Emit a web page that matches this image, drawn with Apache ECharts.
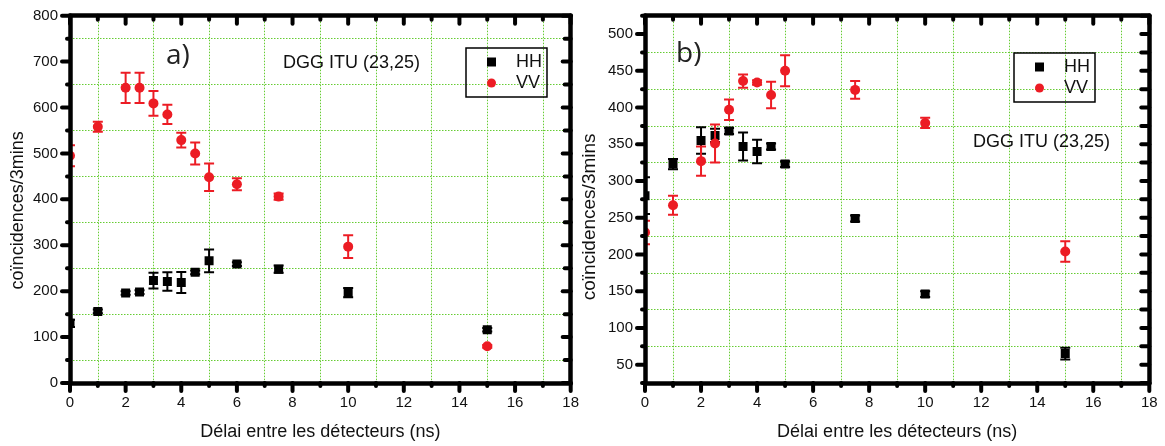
<!DOCTYPE html>
<html><head><meta charset="utf-8">
<script src="https://cdn.jsdelivr.net/npm/echarts@6/dist/echarts.min.js"></script>
<style>html,body{margin:0;padding:0;background:#fff}#c{width:1165px;height:446px}</style>
</head><body><div id="c"></div>
<script>
// ---- Panel a) ----
const delaysA = [0, 1, 2, 2.5, 3, 3.5, 4, 4.5, 5, 6, 7.5, 10, 15];
const hhA     = [130, 156, 196, 198, 223, 221, 219, 241, 266, 259, 248, 197, 116];
const hhAErr  = [8, 4, 4, 4, 17, 20, 23, 4, 25, 4, 8, 10, 4];
const vvA     = [495, 558, 643, 643, 609, 585, 529, 500, 448, 433, 406, 297, 80];
const vvAErr  = [23, 11, 33, 33, 27, 21, 16, 24, 30, 13, 7, 25, 3];
// ---- Panel b) ----
const delaysB = [0, 1, 2, 2.5, 3, 3.5, 4, 4.5, 5, 7.5, 10, 15];
const hhB     = [280, 323, 355, 362, 368, 347, 340, 347, 323, 249, 146, 65];
const hhBErr  = [25, 7, 18, 9, 4, 19, 16, 4, 4, 4, 4, 8];
const vvB     = [230, 267, 327, 351, 397, 436, 434, 417, 450, 424, 379, 204];
const vvBErr  = [16, 13, 20, 26, 14, 9, 3, 18, 21, 12, 7, 14];
// ---- Tick labels / tick positions ----
const xTicks   = [0, 2, 4, 6, 8, 10, 12, 14, 16, 18];
const xMinor   = [1, 3, 5, 7, 9, 11, 13, 15, 17];
const yTicksA  = [0, 100, 200, 300, 400, 500, 600, 700, 800];
const yMinorA  = [50, 150, 250, 350, 450, 550, 650, 750];
const yTicksB  = [50, 100, 150, 200, 250, 300, 350, 400, 450, 500];
const yMinorB  = [25, 75, 125, 175, 225, 275, 325, 375, 425, 475, 525];
// ---- Texts ----
const xTitle = 'Délai entre les détecteurs (ns)';
const yTitle = 'coïncidences/3mins';
const note = 'DGG ITU (23,25)';

const RED = '#ec1c24', BLACK = '#000000', GREEN = '#66cc33';
const FONT = 'Liberation Sans, Arial, sans-serif';

function zip(xs, ys, es) { return xs.map((x, i) => [x, ys[i], es[i]]); }

function errRender(shape, color, size) {
  return function (params, api) {
    const x = api.value(0), y = api.value(1), e = api.value(2);
    const c = api.coord([x, y]);
    const t = api.coord([x, y + e]);
    const b = api.coord([x, y - e]);
    const cap = 5;
    const st = { stroke: color, lineWidth: 2 };
    const ch = [
      { type: 'line', shape: { x1: c[0], y1: t[1], x2: c[0], y2: b[1] }, style: st },
      { type: 'line', shape: { x1: c[0] - cap, y1: t[1], x2: c[0] + cap, y2: t[1] }, style: st },
      { type: 'line', shape: { x1: c[0] - cap, y1: b[1], x2: c[0] + cap, y2: b[1] }, style: st }
    ];
    if (shape === 'rect') ch.push({ type: 'rect', shape: { x: c[0] - size / 2, y: c[1] - size / 2, width: size, height: size }, style: { fill: color } });
    else ch.push({ type: 'circle', shape: { cx: c[0], cy: c[1], r: size / 2 }, style: { fill: color } });
    return { type: 'group', children: ch };
  };
}

// Tick marks: every tick in the reference points either down (dir 0) or left (dir 1).
function tickRender(params, api) {
  const c = api.coord([api.value(0), api.value(1)]);
  const dir = api.value(2), len = api.value(3);
  const shape = dir === 0
    ? { x1: c[0], y1: c[1], x2: c[0], y2: c[1] + len }
    : { x1: c[0] - len, y1: c[1], x2: c[0], y2: c[1] };
  return { type: 'line', shape: shape, style: { stroke: '#000', lineWidth: 4, lineCap: 'round' } };
}
function tickData(xMaj, xMin, yMaj, yMin, x0, x1, y0, y1, rightMinorLen) {
  const d = [];
  xMaj.forEach(v => { d.push([v, y0, 0, 8]); d.push([v, y1, 0, 8]); });
  xMin.forEach(v => { d.push([v, y0, 0, 3]); d.push([v, y1, 0, 4]); });
  yMaj.forEach(v => { d.push([x0, v, 1, 8]); d.push([x1, v, 1, 8]); });
  yMin.forEach(v => { d.push([x0, v, 1, 3]); d.push([x1, v, 1, rightMinorLen]); });
  return d;
}

function axLine() { return { show: true, onZero: false, lineStyle: { color: '#000', width: 4.5 } }; }
function lbl(list) {
  return { fontSize: 15, color: '#111', fontFamily: FONT, margin: 12,
    formatter: function (v) { return list.indexOf(v) >= 0 ? String(v) : ''; } };
}
function gridLine() { return { show: true, lineStyle: { color: GREEN, width: 1, type: [1.5, 1.5] } }; }

function xAxes(g, nameGap) {
  return [
    { type: 'value', gridIndex: g, position: 'bottom', min: 0, max: 18, interval: 2, z: 5,
      axisLine: axLine(), axisTick: { show: false },
      axisLabel: lbl(xTicks), splitLine: { show: false },
      name: xTitle, nameLocation: 'middle', nameGap: nameGap,
      nameTextStyle: { fontSize: 18, color: '#111', fontFamily: FONT } },
    { type: 'value', gridIndex: g, position: 'top', min: 0, max: 18, interval: 2, z: 0,
      axisLine: axLine(), axisTick: { show: false }, minorTick: { show: false, splitNumber: 2 },
      axisLabel: { show: false }, splitLine: { show: false }, minorSplitLine: gridLine() }
  ];
}

const option = {
  animation: false,
  backgroundColor: '#fff',
  grid: [
    { left: 70, right: 594.3, top: 15.7, bottom: 62.7 },
    { left: 645, right: 15.7, top: 15.7, bottom: 61.7 }
  ],
  title: [
    { text: 'a)', left: 166, top: 42, padding: 0, textStyle: { fontFamily: 'Open Sans', fontSize: 28, fontWeight: 'normal', color: '#222' } },
    { text: 'b)', left: 676, top: 40, padding: 0, textStyle: { fontFamily: 'Open Sans', fontSize: 28, fontWeight: 'normal', color: '#222' } },
    { text: note, left: 283, top: 54, padding: 0, textStyle: { fontFamily: FONT, fontSize: 18, fontWeight: 'normal', color: '#111' } },
    { text: note, left: 973, top: 133, padding: 0, textStyle: { fontFamily: FONT, fontSize: 18, fontWeight: 'normal', color: '#111' } }
  ],
  legend: [48, 53].map((top, k) => ({
    left: k === 0 ? 466 : 1014, top: top, orient: 'vertical', selectedMode: false,
    data: [{ name: 'HH', icon: 'rect' }, { name: 'VV', icon: 'circle' }],
    borderColor: '#000', borderWidth: 1.5, padding: [5, 5, 5, 21],
    itemWidth: 9, itemHeight: 9, itemGap: 3,
    textStyle: { fontSize: 18, fontFamily: FONT, color: '#111', padding: [0, 0, 0, 15] }
  })),
  xAxis: [].concat(xAxes(0, 40), xAxes(1, 40)),
  yAxis: [
    // panel a
    { type: 'value', gridIndex: 0, position: 'left', min: 0, max: 800, interval: 100, z: 5,
      axisLine: axLine(), axisTick: { show: false },
      axisLabel: lbl(yTicksA), splitLine: { show: false },
      name: yTitle, nameLocation: 'middle', nameGap: 43,
      nameTextStyle: { fontSize: 18, color: '#111', fontFamily: FONT, padding: [0, 22, 0, 0] } },
    { type: 'value', gridIndex: 0, position: 'right', min: 0, max: 800, interval: 100, z: 0,
      axisLine: axLine(), axisTick: { show: false }, minorTick: { show: false, splitNumber: 2 },
      axisLabel: { show: false }, splitLine: { show: false }, minorSplitLine: gridLine() },
    // panel b
    { type: 'value', gridIndex: 1, position: 'left', min: 25, max: 525, interval: 25, z: 5,
      axisLine: axLine(), axisTick: { show: false },
      axisLabel: lbl(yTicksB), splitLine: { show: false },
      name: yTitle, nameLocation: 'middle', nameGap: 46,
      nameTextStyle: { fontSize: 19, color: '#111', fontFamily: FONT, padding: [0, 35, 0, 0] } },
    { type: 'value', gridIndex: 1, position: 'right', min: 25, max: 525, interval: 50, z: 0,
      axisLine: axLine(), axisTick: { show: false }, axisLabel: { show: false },
      splitLine: gridLine() }
  ],
  series: [
    { name: 'HH', type: 'custom', xAxisIndex: 0, yAxisIndex: 0, clip: true, z: 2, itemStyle: { color: BLACK },
      renderItem: errRender('rect', BLACK, 9), encode: { x: 0, y: 1 }, data: zip(delaysA, hhA, hhAErr) },
    { name: 'VV', type: 'custom', xAxisIndex: 0, yAxisIndex: 0, clip: true, z: 2, itemStyle: { color: RED },
      renderItem: errRender('circle', RED, 10), encode: { x: 0, y: 1 }, data: zip(delaysA, vvA, vvAErr) },
    { name: 'HH', type: 'custom', xAxisIndex: 2, yAxisIndex: 2, clip: true, z: 2, itemStyle: { color: BLACK },
      renderItem: errRender('rect', BLACK, 9), encode: { x: 0, y: 1 }, data: zip(delaysB, hhB, hhBErr) },
    { name: 'VV', type: 'custom', xAxisIndex: 2, yAxisIndex: 2, clip: true, z: 2, itemStyle: { color: RED },
      renderItem: errRender('circle', RED, 10), encode: { x: 0, y: 1 }, data: zip(delaysB, vvB, vvBErr) },
    { name: 'ticksA', type: 'custom', xAxisIndex: 0, yAxisIndex: 0, clip: false, z: 6, silent: true,
      renderItem: tickRender, encode: { x: 0, y: 1 },
      data: tickData(xTicks, xMinor, yTicksA, yMinorA, 0, 18, 0, 800, 6) },
    { name: 'ticksB', type: 'custom', xAxisIndex: 2, yAxisIndex: 2, clip: false, z: 6, silent: true,
      renderItem: tickRender, encode: { x: 0, y: 1 },
      data: tickData(xTicks, xMinor, yTicksB, yMinorB, 0, 18, 25, 525, 8) }
  ]
};

const chart = echarts.init(document.getElementById('c'), null, { renderer: 'canvas' });
chart.setOption(option);
</script>
</body></html>
